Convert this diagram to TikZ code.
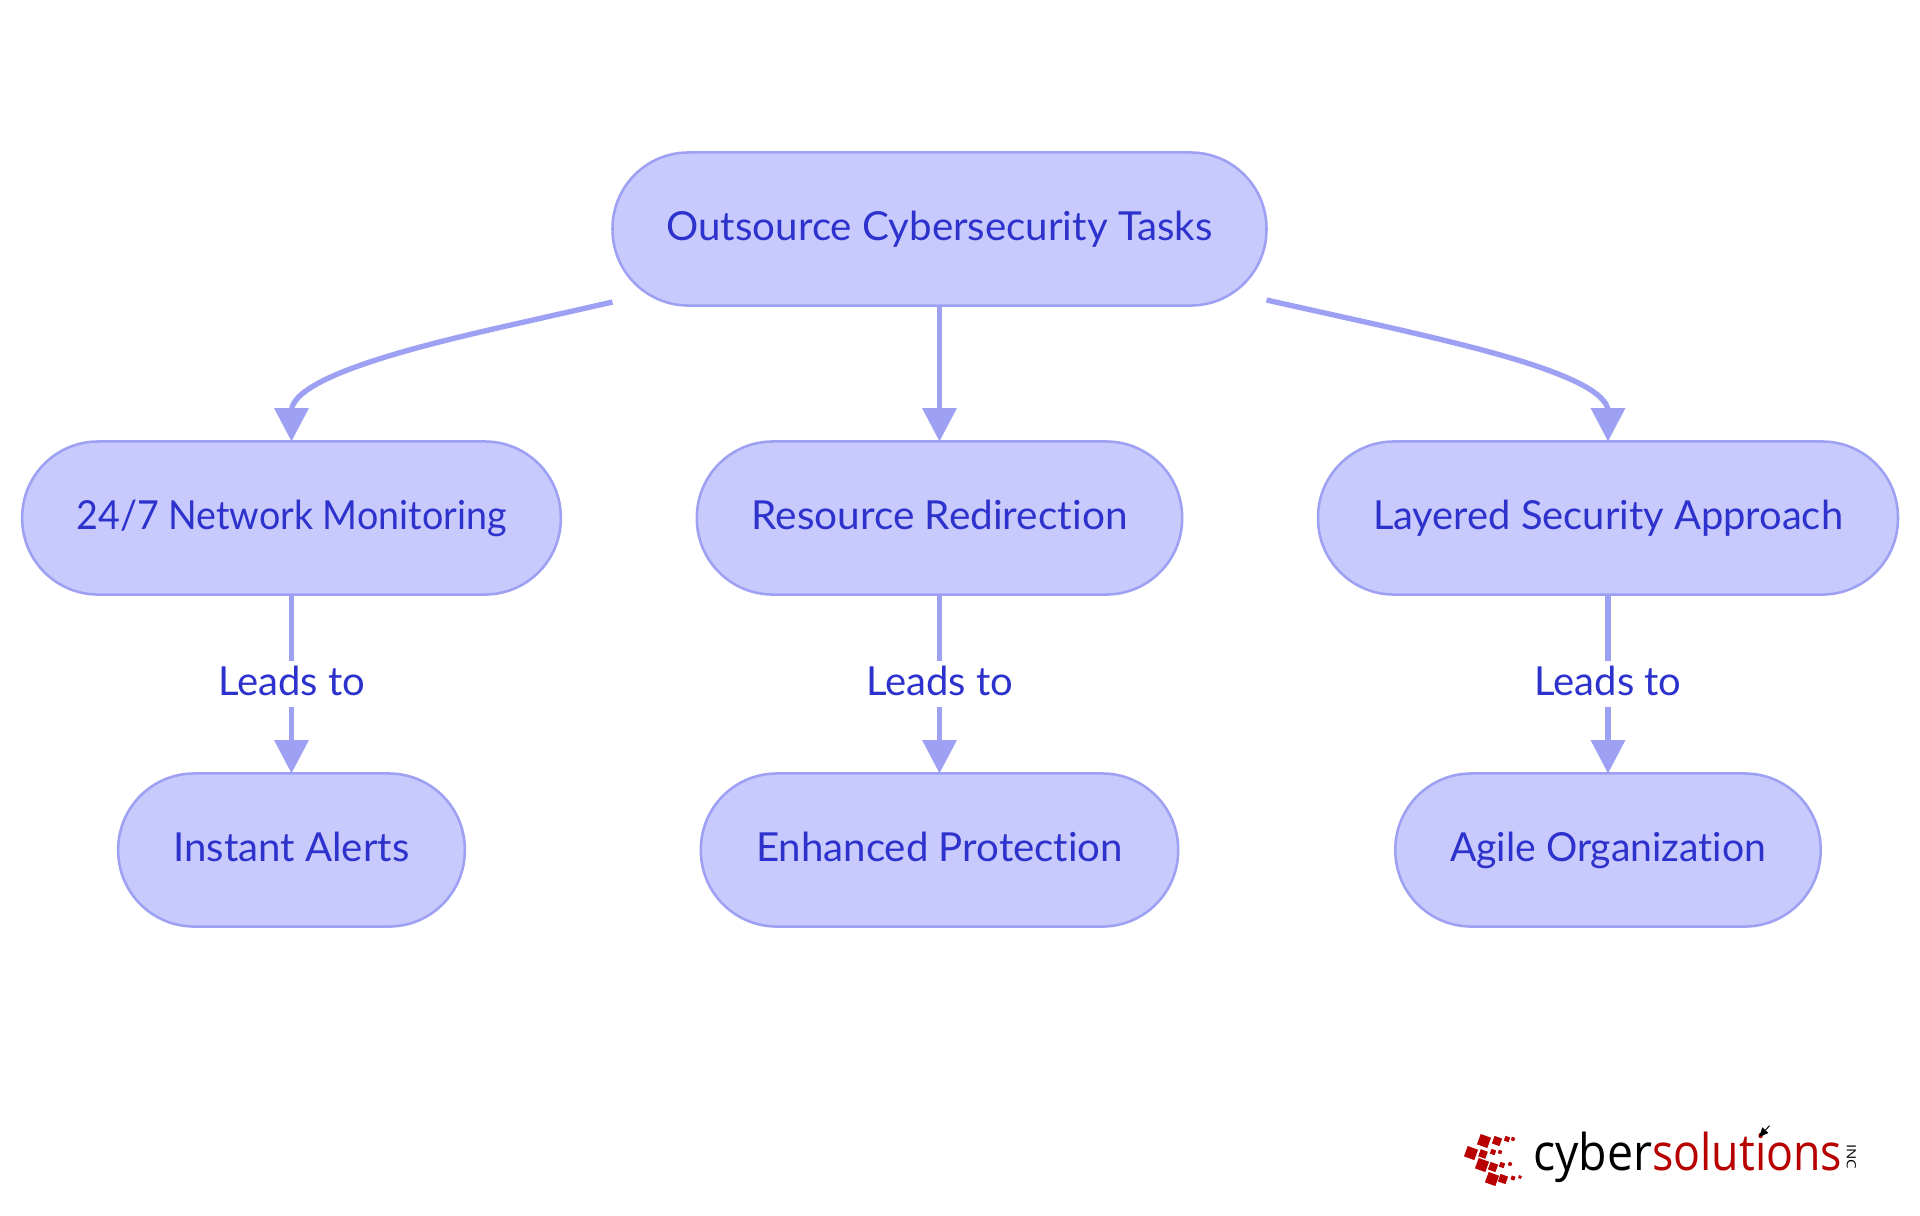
\documentclass[tikz,border=0pt]{standalone}
\usepackage{fontspec}
\usepackage{graphicx}
\setmainfont{Lato}[Ligatures={NoCommon,NoRequired,NoContextual}]
\newfontfamily\logofont{Open Sans}
\usetikzlibrary{arrows.meta}
\definecolor{pillfill}{RGB}{200,201,252}
\definecolor{pillline}{RGB}{157,160,243}
\definecolor{inktext}{RGB}{45,50,205}
\definecolor{logored}{RGB}{184,0,0}
\newcommand{\fitw}[2]{\resizebox{\dimexpr #1pt*3/4\relax}{\height}{#2}}
\tikzset{
  x=0.75pt,y=-0.75pt,
  pill/.style={draw=pillline,fill=pillfill,line width=1.9pt,rounded corners=57pt,inner sep=0pt,outer sep=0pt,
    minimum height=114.8pt,text=inktext,text height=26.2pt,text depth=9pt,font=\fontsize{30}{33}\selectfont},
  flow/.style={draw=pillline,line width=4pt,-{Triangle[length=25pt,width=25pt]}},
  edgelabel/.style={fill=white,inner sep=0pt,outer sep=0pt,minimum height=33pt,minimum width=115pt,text=inktext,
    text height=26.2pt,text depth=9pt,font=\fontsize{30}{33}\selectfont},
}
\newcommand{\sqr}[3]{\fill[logored,rotate around={-20:(#1,#2)}] ([shift={(-#3/2,-#3/2)}]#1,#2) rectangle ([shift={(#3/2,#3/2)}]#1,#2);}
\begin{document}
\begin{tikzpicture}
\useasboundingbox (0,0) rectangle (1920,1215);
\fill[white] (0,0) rectangle (1920,1215);
\node[pill,minimum width=490.5pt] (top) at (939.5,229) {\fitw{546}{Outsource Cybersecurity Tasks}};
\node[pill,minimum width=404pt] (a) at (291.5,518) {\fitw{430}{24/7 Network Monitoring}};
\node[pill,minimum width=364pt] (b) at (939.5,518) {\fitw{376}{Resource Redirection}};
\node[pill,minimum width=435pt] (c) at (1608,518) {\fitw{470}{Layered Security Approach}};
\node[pill,minimum width=260pt] (d) at (291.5,850) {\fitw{236}{Instant Alerts}};
\node[pill,minimum width=358pt] (e) at (939.5,850) {\fitw{367}{Enhanced Protection}};
\node[pill,minimum width=319pt] (f) at (1608,850) {\fitw{316}{Agile Organization}};

\draw[flow] (top.south) -- (b.north);
\draw[flow] ([shift={(0,-3.5)}]top.south west) -- (503.3,326.7) .. controls (430,343.5) and (295,375) .. (291.5,410) -- (a.north);
\draw[flow] ([shift={(0,-5.5)}]top.south east) -- (1383.3,326) .. controls (1470,346) and (1603,376) .. (1608,410) -- (c.north);
\draw[flow] (a) -- (d);
\draw[flow] (b) -- (e);
\draw[flow] (c) -- (f);
\node[edgelabel] (la) at (291.5,684) {\fitw{147}{Leads to}};
\node[edgelabel] (lb) at (939.5,684) {\fitw{147}{Leads to}};
\node[edgelabel] (lc) at (1608,684) {\fitw{147}{Leads to}};
\foreach \p/\q/\s in {1484/1141/11,1497/1141/8,1507/1139/5,1513/1139/3.5,1471/1153/11,1483/1154/7.5,1493/1152/5,1500/1152/3.5,1482/1165/11,1493/1167/8,1502/1165/5,1510/1164/3.5,1492/1179/11,1503/1179/8,1513/1178/4,1520/1177/3}{
  \sqr{\p}{\q}{\s}
}
\node[inner sep=0pt,anchor=base west,text=black,font=\logofont\fontsize{38}{40}\selectfont] (lg1) at (1533,1170) {\fitw{119}{cyber}};
\node[inner sep=0pt,anchor=base west,text=logored,font=\logofont\fontsize{38}{40}\selectfont] (lg2) at (1652,1170) {\fitw{190}{solutions}};
\node[inner sep=0pt,rotate=-90,text=black,font=\logofont\fontsize{9.5}{10}\selectfont] (lg3) at (1851.5,1156.5) {\fitw{25}{INC}};
\draw[black,line width=0.7pt,-{Triangle[length=7pt,width=6pt]}] (1769.5,1125.7) -- (1759,1137);
\end{tikzpicture}
\end{document}
